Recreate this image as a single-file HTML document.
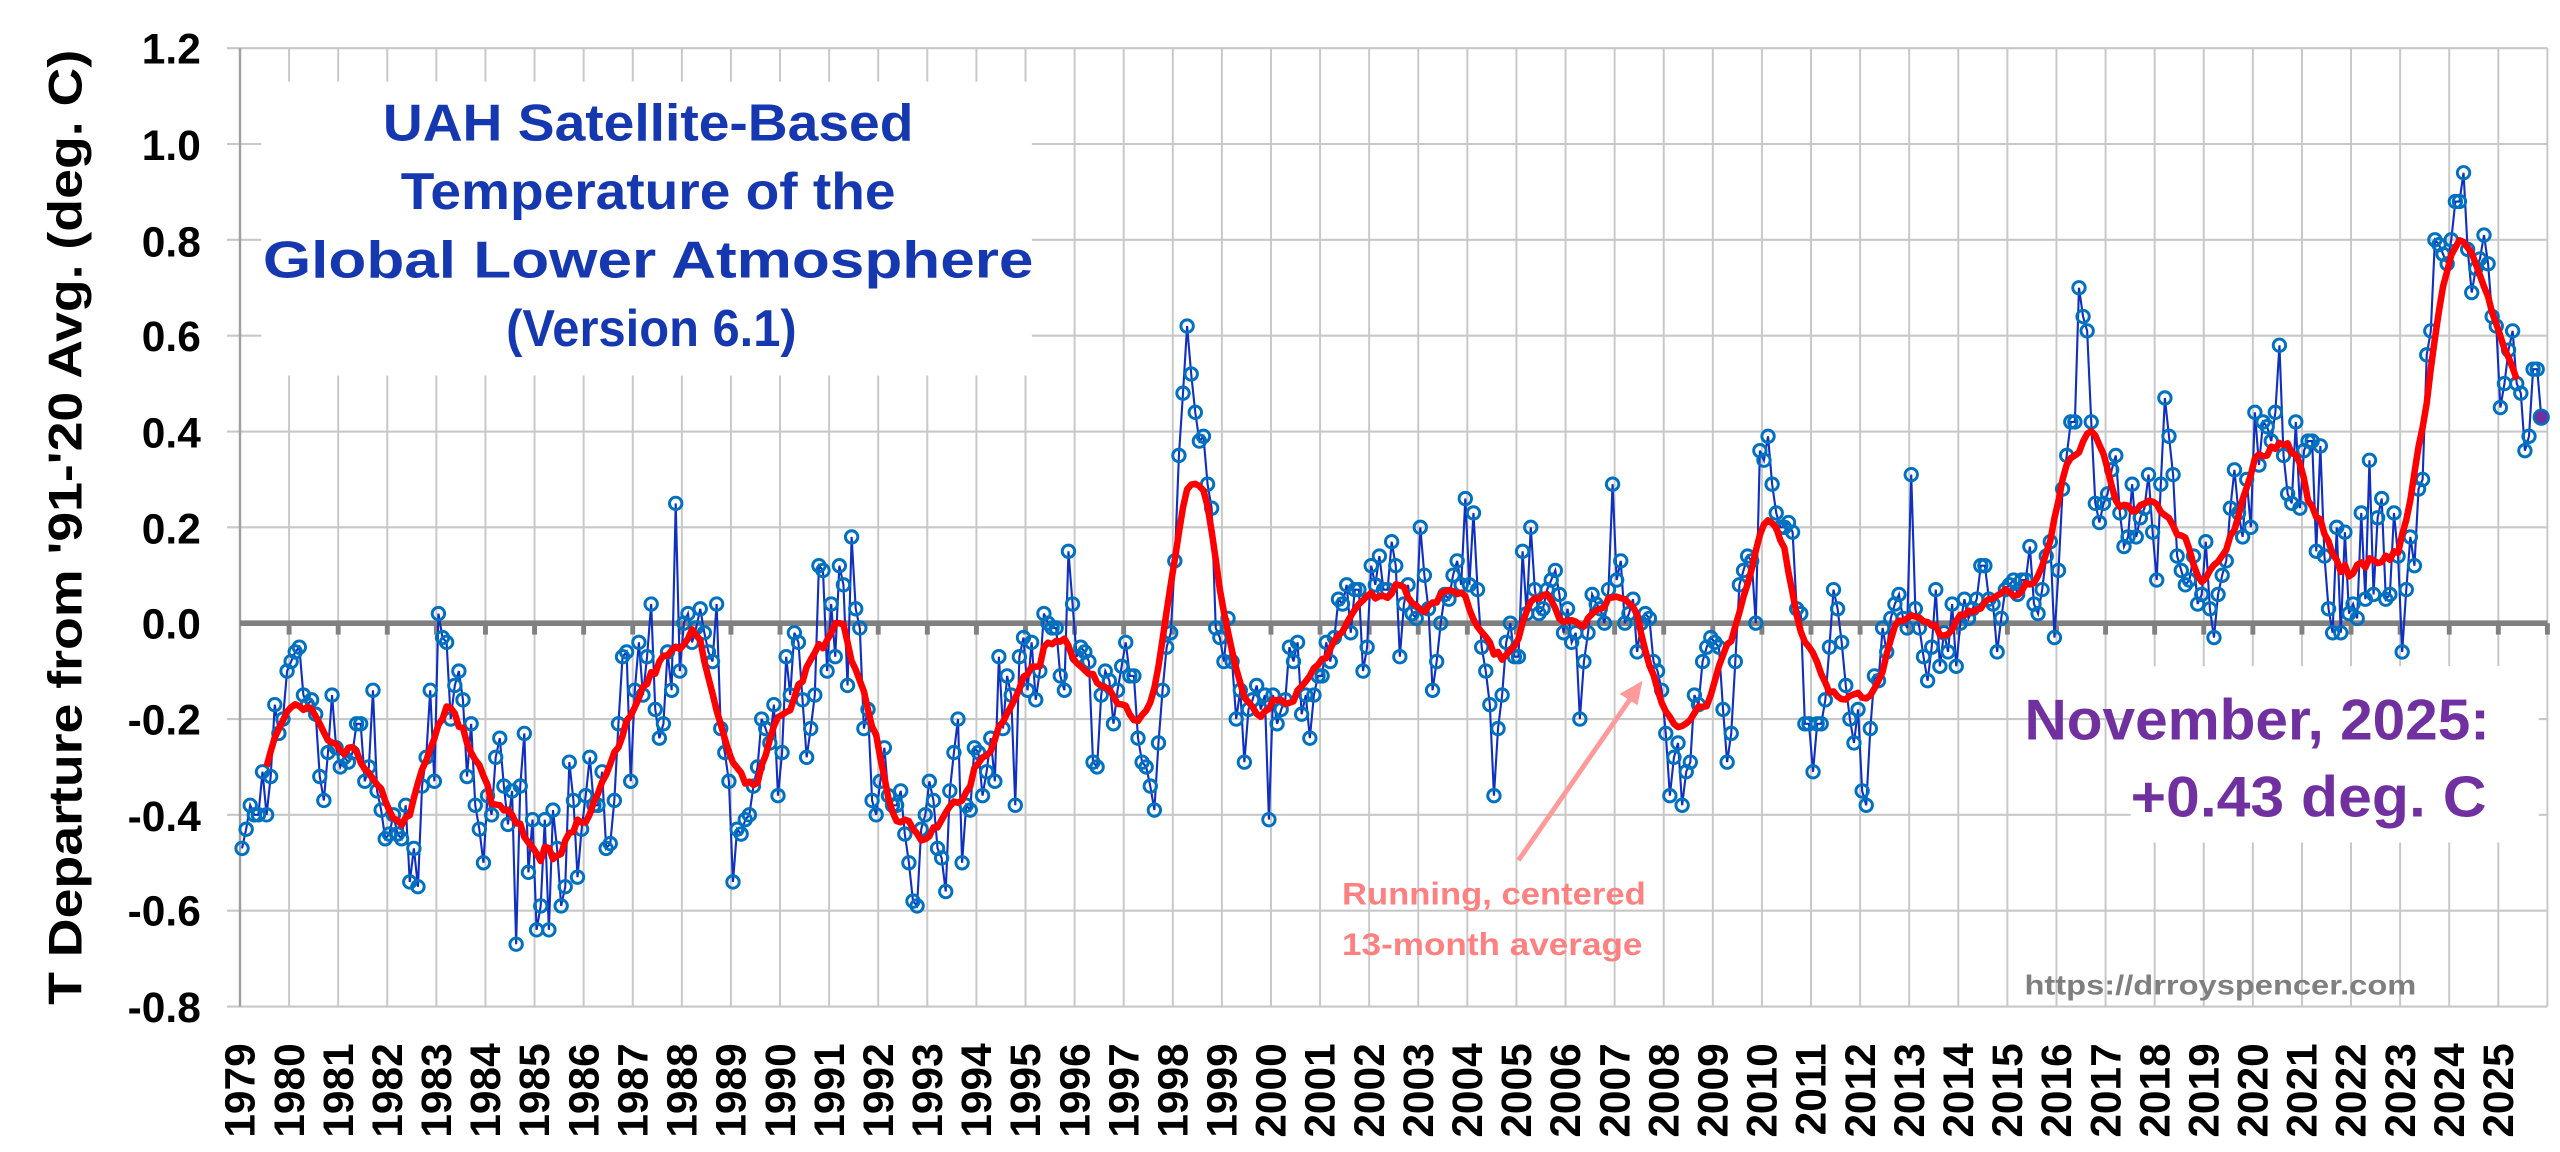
<!DOCTYPE html>
<html><head><meta charset="utf-8"><style>
html,body{margin:0;padding:0;background:#fff;width:2560px;height:1152px;overflow:hidden}
svg{display:block}
text{font-family:"Liberation Sans",sans-serif;font-weight:bold}
</style></head><body>
<svg id="c" width="2560" height="1152" viewBox="0 0 1568 705.6" xmlns="http://www.w3.org/2000/svg">
<rect width="1568" height="705.6" fill="#fff"/>
<g id="grid"></g>
<g id="data"></g>
<rect x="160" y="50" width="472" height="180" fill="#fff"/>
<g fill="#1538b0" font-size="32" text-anchor="middle" lengthAdjust="spacingAndGlyphs">
<text x="397" y="86" textLength="325" lengthAdjust="spacingAndGlyphs">UAH Satellite-Based</text>
<text x="397" y="128" textLength="303" lengthAdjust="spacingAndGlyphs">Temperature of the</text>
<text x="397" y="170" textLength="472" lengthAdjust="spacingAndGlyphs">Global Lower Atmosphere</text>
<text x="399" y="212" textLength="178" lengthAdjust="spacingAndGlyphs">(Version 6.1)</text>
</g>
<rect x="1305" y="408" width="250" height="108" fill="#fff"/>
<g fill="#7030a0" font-size="35">
<text x="1240" y="453" textLength="285" lengthAdjust="spacingAndGlyphs">November, 2025:</text>
<text x="1305" y="500" textLength="218" lengthAdjust="spacingAndGlyphs">+0.43 deg. C</text>
</g>
<g fill="#ff8080" font-size="19">
<text x="822" y="554" textLength="186" lengthAdjust="spacingAndGlyphs">Running, centered</text>
<text x="822" y="585" textLength="184" lengthAdjust="spacingAndGlyphs">13-month average</text>
</g>
<line x1="930" y1="527" x2="1000" y2="426" stroke="#ff9a9a" stroke-width="3"/>
<polygon points="1006,417 992,425 1003,432" fill="#ff9a9a"/>
<text x="1240" y="609" fill="#7f7f7f" font-size="17" textLength="240" lengthAdjust="spacingAndGlyphs">https://drroyspencer.com</text>
<g font-size="26" fill="#000" text-anchor="end">
<text x="123" y="39">1.2</text><text x="123" y="98">1.0</text><text x="123" y="157">0.8</text>
<text x="123" y="215">0.6</text><text x="123" y="274">0.4</text><text x="123" y="333">0.2</text>
<text x="123" y="391">0.0</text><text x="123" y="450">-0.2</text><text x="123" y="509">-0.4</text>
<text x="123" y="567">-0.6</text><text x="123" y="626">-0.8</text>
</g>
<text transform="translate(50,323) rotate(-90)" font-size="29" text-anchor="middle" textLength="585" lengthAdjust="spacingAndGlyphs">T Departure from '91-'20 Avg. (deg. C)</text>
<g id="xl" font-size="26" text-anchor="end"></g>
</svg>
<script>
var X0=147,W=30.07,YT=29.5,PU=293.5;
function Y(v){return YT+(1.2-v)*PU;}
var d=[
-0.47,-0.43,-0.38,-0.40,-0.40,-0.31,-0.40,-0.32,-0.17,-0.23,-0.20,-0.10,
-0.08,-0.06,-0.05,-0.15,-0.17,-0.16,-0.19,-0.32,-0.37,-0.27,-0.15,-0.26,
-0.30,-0.28,-0.29,-0.27,-0.21,-0.21,-0.33,-0.30,-0.14,-0.35,-0.39,-0.45,
-0.44,-0.40,-0.44,-0.45,-0.38,-0.54,-0.47,-0.55,-0.34,-0.28,-0.14,-0.33,
0.02,-0.03,-0.04,-0.20,-0.13,-0.10,-0.16,-0.32,-0.21,-0.38,-0.43,-0.50,
-0.36,-0.40,-0.28,-0.24,-0.34,-0.42,-0.35,-0.67,-0.34,-0.23,-0.52,-0.41,
-0.64,-0.59,-0.41,-0.64,-0.39,-0.47,-0.59,-0.55,-0.29,-0.37,-0.53,-0.43,
-0.36,-0.28,-0.38,-0.38,-0.31,-0.47,-0.46,-0.37,-0.21,-0.07,-0.06,-0.33,
-0.14,-0.04,-0.15,-0.07,0.04,-0.18,-0.24,-0.21,-0.06,-0.14,0.25,-0.10,
0.00,0.02,-0.04,-0.01,0.03,-0.02,-0.06,-0.08,0.04,-0.22,-0.27,-0.33,
-0.54,-0.43,-0.44,-0.41,-0.40,-0.34,-0.30,-0.20,-0.22,-0.25,-0.17,-0.36,
-0.27,-0.07,-0.15,-0.02,-0.04,-0.16,-0.28,-0.22,-0.15,0.12,0.11,-0.10,
0.04,-0.07,0.12,0.08,-0.13,0.18,0.03,-0.01,-0.22,-0.18,-0.37,-0.40,
-0.33,-0.26,-0.36,-0.38,-0.38,-0.35,-0.44,-0.50,-0.58,-0.59,-0.43,-0.40,
-0.33,-0.37,-0.47,-0.49,-0.56,-0.35,-0.27,-0.20,-0.50,-0.38,-0.39,-0.26,
-0.27,-0.36,-0.31,-0.24,-0.33,-0.07,-0.22,-0.11,-0.15,-0.38,-0.07,-0.03,
-0.14,-0.04,-0.16,-0.10,0.02,0.00,-0.01,-0.01,-0.11,-0.14,0.15,0.04,
-0.07,-0.05,-0.06,-0.08,-0.29,-0.30,-0.15,-0.10,-0.12,-0.21,-0.14,-0.09,
-0.04,-0.11,-0.11,-0.24,-0.29,-0.30,-0.34,-0.39,-0.25,-0.14,-0.05,-0.02,
0.13,0.35,0.48,0.62,0.52,0.44,0.38,0.39,0.29,0.24,-0.01,-0.03,
-0.08,0.01,-0.08,-0.20,-0.14,-0.29,-0.18,-0.16,-0.13,-0.18,-0.15,-0.41,
-0.15,-0.21,-0.18,-0.16,-0.05,-0.08,-0.04,-0.19,-0.15,-0.24,-0.15,-0.11,
-0.11,-0.04,-0.08,-0.03,0.05,0.04,0.08,-0.02,0.07,0.07,-0.10,-0.05,
0.12,0.08,0.14,0.07,0.07,0.17,0.12,-0.07,0.04,0.08,0.02,0.01,
0.20,0.10,0.03,-0.14,-0.08,0.00,0.06,0.05,0.10,0.13,0.08,0.26,
0.08,0.23,0.07,-0.05,-0.10,-0.17,-0.36,-0.22,-0.15,-0.04,0.00,-0.07,
-0.07,0.15,0.02,0.20,0.07,0.02,0.03,0.07,0.09,0.11,0.06,-0.02,
0.03,-0.04,-0.02,-0.20,-0.08,-0.02,0.06,0.04,0.03,0.00,0.07,0.29,
0.09,0.13,0.00,0.02,0.05,-0.06,0.00,0.02,0.01,-0.08,-0.10,-0.14,
-0.23,-0.36,-0.28,-0.25,-0.38,-0.31,-0.29,-0.15,-0.17,-0.08,-0.05,-0.03,
-0.04,-0.05,-0.18,-0.29,-0.23,-0.08,0.08,0.11,0.14,0.13,0.00,0.36,
0.34,0.39,0.29,0.23,0.20,0.20,0.21,0.19,0.03,0.02,-0.21,-0.21,
-0.31,-0.21,-0.21,-0.16,-0.05,0.07,0.03,-0.04,-0.13,-0.20,-0.25,-0.18,
-0.35,-0.38,-0.22,-0.11,-0.12,-0.01,-0.06,0.01,0.04,0.06,0.01,-0.01,
0.31,0.03,-0.01,-0.07,-0.12,-0.05,0.07,-0.09,-0.02,-0.06,0.04,-0.09,
0.00,0.05,0.01,0.03,0.05,0.12,0.12,0.05,0.04,-0.06,0.01,0.07,
0.08,0.09,0.06,0.09,0.09,0.16,0.04,0.02,0.07,0.14,0.17,-0.03,
0.11,0.28,0.35,0.42,0.42,0.70,0.64,0.61,0.42,0.25,0.21,0.25,
0.27,0.32,0.35,0.23,0.16,0.18,0.29,0.18,0.22,0.24,0.31,0.19,
0.09,0.29,0.47,0.39,0.31,0.14,0.11,0.08,0.09,0.14,0.04,0.06,
0.17,0.03,-0.03,0.06,0.10,0.13,0.24,0.32,0.23,0.18,0.30,0.20,
0.44,0.33,0.42,0.41,0.38,0.44,0.58,0.35,0.27,0.25,0.42,0.24,
0.36,0.38,0.38,0.15,0.37,0.14,0.03,-0.02,0.20,-0.02,0.19,0.02,
0.04,0.01,0.23,0.05,0.34,0.06,0.22,0.26,0.05,0.06,0.23,0.14,
-0.06,0.07,0.18,0.12,0.28,0.30,0.56,0.61,0.80,0.79,0.77,0.75,
0.80,0.88,0.88,0.94,0.78,0.69,0.74,0.76,0.81,0.75,0.64,0.62,
0.45,0.50,0.57,0.61,0.50,0.48,0.36,0.39,0.53,0.53,0.43];
var g=document.getElementById('grid'),dg=document.getElementById('data'),h='';
var XR=X0+47*W;
for(var k=1;k<47;k++){var x=X0+k*W;h+='<line x1="'+x+'" y1="'+YT+'" x2="'+x+'" y2="616.5" stroke="#c8c8c8" stroke-width="1.2"/>';}
for(var v=-0.8;v<1.25;v+=0.2){if(Math.abs(v)<0.01)continue;var y=Y(v);h+='<line x1="'+(X0-8)+'" y1="'+y+'" x2="'+XR+'" y2="'+y+'" stroke="#c8c8c8" stroke-width="1.3"/>';}
h+='<line x1="'+X0+'" y1="'+YT+'" x2="'+X0+'" y2="616.5" stroke="#a0a0a0" stroke-width="1.5"/>';
h+='<line x1="'+XR+'" y1="'+YT+'" x2="'+XR+'" y2="616.5" stroke="#c8c8c8" stroke-width="1.2"/>';
var z=Y(0);
for(var k=1;k<=47;k++){var x=X0+k*W;h+='<line x1="'+x+'" y1="'+z+'" x2="'+x+'" y2="'+(z+7)+'" stroke="#808080" stroke-width="3"/>';}
h+='<line x1="'+X0+'" y1="'+z+'" x2="'+XR+'" y2="'+z+'" stroke="#808080" stroke-width="3.5"/>';
g.innerHTML=h;
var xl='';
for(var k=0;k<47;k++){var x=X0+k*W+9;xl+='<text transform="translate('+x.toFixed(1)+',639) rotate(-90)">'+(1979+k)+'</text>';}
document.getElementById('xl').innerHTML=xl;
function MX(i){return X0+(i+0.5)*W/12;}
var p='',c='';
for(var i=0;i<d.length;i++){p+=(i?'L':'M')+MX(i).toFixed(2)+','+Y(d[i]).toFixed(2);
 if(i<d.length-1)c+='<circle cx="'+MX(i).toFixed(2)+'" cy="'+Y(d[i]).toFixed(2)+'" r="3.8" fill="none" stroke="#0070c0" stroke-width="1.8"/>';}
var r='';
for(var i=6;i<d.length-6;i++){var s=0;for(var j=-6;j<=6;j++)s+=d[i+j];s/=13;r+=(i>6?'L':'M')+MX(i).toFixed(2)+','+Y(s).toFixed(2);}
var L=d.length-1;
dg.innerHTML='<path d="'+p+'" fill="none" stroke="#1030c0" stroke-width="1.3"/>'+c+
'<path d="'+r+'" fill="none" stroke="#ff0000" stroke-width="4" stroke-linejoin="round"/>'+
'<circle cx="'+MX(L)+'" cy="'+Y(d[L])+'" r="4.5" fill="#7030a0" stroke="#0070c0" stroke-width="1.5"/>';
</script>
</body></html>
